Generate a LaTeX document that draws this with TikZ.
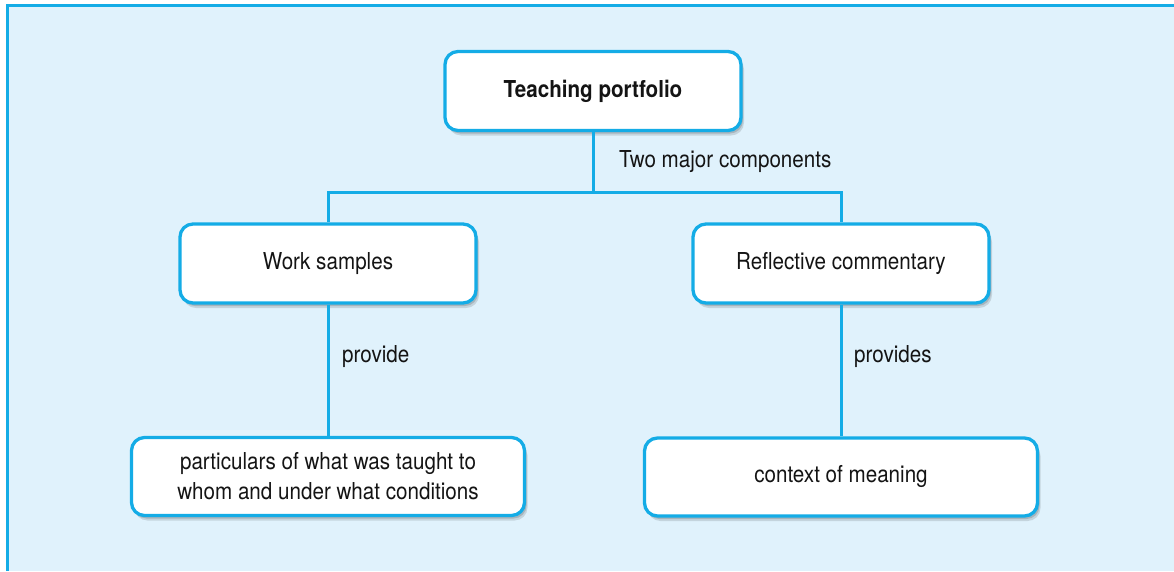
\documentclass[tikz,border=0pt]{standalone}
\usepackage{fontspec}
\setmainfont{TeX Gyre Heros}[FakeStretch=0.885]
\usetikzlibrary{shadows}
\definecolor{lineblue}{HTML}{14ACE6}
\definecolor{bgblue}{HTML}{E0F2FC}
\definecolor{txt}{HTML}{141414}
\tikzset{
  box/.style={draw=lineblue, line width=3.3pt, fill=white, rounded corners=13pt,
    align=center, text=txt, inner sep=0pt,
    drop shadow={shadow xshift=3pt, shadow yshift=-5pt, fill=black, opacity=0.12},
    drop shadow={shadow xshift=2pt, shadow yshift=-3pt, fill=black, opacity=0.15}},
  conn/.style={draw=lineblue, line width=3pt},
  lbl/.style={text=txt, inner sep=0pt, anchor=west}
}
\begin{document}
\begin{tikzpicture}[x=1pt,y=-1pt, font=\fontsize{23.3}{30}\selectfont]
\useasboundingbox (0,0) rectangle (1174,571);
\fill[white] (0,0) rectangle (1174,571);
\fill[bgblue] (7.5,5.5) rectangle (1174,571);
\draw[lineblue, line width=3pt] (7.5,571) -- (7.5,5.5) -- (1174,5.5);

\node[box, minimum width=296pt, minimum height=79pt, font=\fontsize{23.3}{30}\selectfont\bfseries] (tp) at (593,91) {Teaching portfolio};
\node[box, minimum width=296pt, minimum height=79pt] (ws) at (328,263.5) {Work samples};
\node[box, minimum width=296pt, minimum height=79pt] (rc) at (841,263.5) {Reflective commentary};
\node[box, minimum width=393pt, minimum height=78pt] (pa) at (328,476.5) {particulars of what was taught to\\whom and under what conditions};
\node[box, minimum width=393pt, minimum height=78pt] (cm) at (841,477) {context of meaning};

\coordinate (jn) at (593,192);
\draw[conn] (tp.south) -- (jn);
\draw[conn] (ws.north) |- (jn) -| (rc.north);
\draw[conn] (ws.south) -- (pa.north);
\draw[conn] (rc.south) -- (cm.north);

\node[lbl] (l1) at (619,162) {Two major components};
\node[lbl] (l2) at (342,357) {provide};
\node[lbl] (l3) at (854,357) {provides};
\end{tikzpicture}
\end{document}
